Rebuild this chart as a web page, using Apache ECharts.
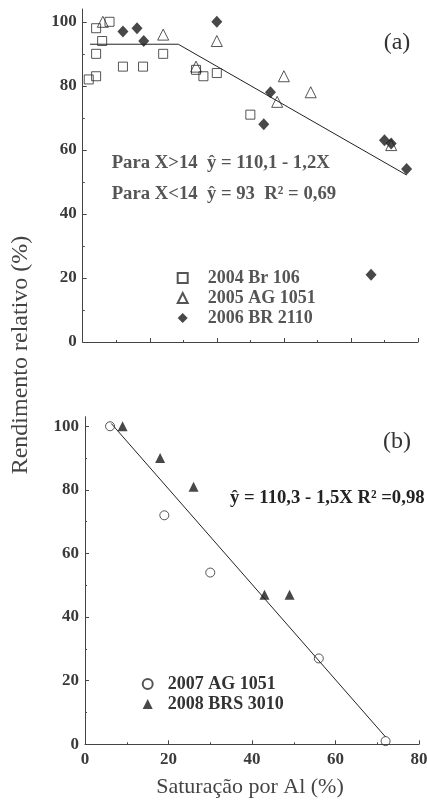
<!DOCTYPE html>
<html>
<head>
<meta charset="utf-8">
<script src="https://cdn.jsdelivr.net/npm/echarts@6/dist/echarts.min.js"></script>
<style>
  html, body { margin: 0; padding: 0; background: #fff; }
  #chart { width: 427px; height: 803px; }
</style>
</head>
<body>
<div id="chart"></div>
<script>
const serif = "'Liberation Serif','Times New Roman',serif";

// Panel (a): relative yield vs. Al saturation, 2004–2006 trials
const br106_2004 = [[0.9, 82], [2, 98], [2, 90], [2, 83], [2.9, 94], [4, 100], [6, 86], [9, 86], [12, 90], [16.9, 85], [18, 83], [20, 84], [25, 71]];
const ag1051_2005 = [[3, 100], [12, 96], [16.9, 86], [20, 94], [29, 75], [30, 83], [34, 78], [46, 61.5]];
const br2110_2006 = [[6, 97], [8.1, 98], [9.1, 94], [20, 100], [27, 68], [28, 78], [43, 21], [45, 63], [46, 62], [48.3, 54]];
// plateau y = 93 up to X = 14.25, then y = 110.1 - 1.2X
const fitA = [[1.1, 93], [14.25, 93], [48.3, 52.14]];

// Panel (b): 2007–2008 trials
const ag1051_2007 = [[6, 100], [19, 72], [30, 54], [56, 27], [72, 1]];
const brs3010_2008 = [[9, 100], [18, 90], [26, 81], [43, 47], [49, 47]];
// y = 110.3 - 1.5X
const fitB = [[6.3, 100.85], [72, 2.3]];

const namesA = ['2004 Br 106', '2005 AG 1051', '2006 BR 2110'];
const namesB = ['2007 AG 1051', '2008 BRS 3010'];

const yMajor = [0, 20, 40, 60, 80, 100];
const yMinor = [10, 30, 50, 70, 90];

const axisColor = '#444';
const labelColor = '#3a3a3a';

function xAxisFor(grid, max, showLabels) {
  return {
    type: 'value', gridIndex: grid, min: 0, max: max, interval: showLabels ? 20 : 10,
    axisLine: { show: true, onZero: false, lineStyle: { color: axisColor, width: 1 } },
    axisTick: { show: true, inside: true, length: 4, lineStyle: { color: axisColor } },
    minorTick: { show: true, splitNumber: 2, length: 2, lineStyle: { color: axisColor } },
    axisLabel: { show: showLabels, margin: 7, fontFamily: serif, fontSize: 17, fontWeight: 'bold', color: labelColor },
    splitLine: { show: false }, minorSplitLine: { show: false }
  };
}
function yMajorAxis(grid, max) {
  return {
    type: 'value', gridIndex: grid, min: 0, max: max, position: 'left', offset: 0,
    axisLine: { show: true, onZero: false, lineStyle: { color: axisColor, width: 1 } },
    axisTick: { show: true, inside: true, length: 4, customValues: yMajor, lineStyle: { color: axisColor } },
    axisLabel: { show: true, customValues: yMajor, margin: 6, fontFamily: serif, fontSize: 17, fontWeight: 'bold', color: labelColor },
    splitLine: { show: false }
  };
}
function yMinorAxis(grid, max) {
  return {
    type: 'value', gridIndex: grid, min: 0, max: max, position: 'left', offset: 0,
    axisLine: { show: false },
    axisTick: { show: true, inside: true, length: 2, customValues: yMinor, lineStyle: { color: axisColor } },
    axisLabel: { show: false },
    splitLine: { show: false }
  };
}

const openStyle = { color: 'rgba(255,255,255,0)', borderColor: '#2a2a2a', borderWidth: 1 };
const solidStyle = { color: '#1a1a1a', borderColor: '#1a1a1a', borderWidth: 0 };

function scatter(name, data, symbol, size, style, xi, yi) {
  return { type: 'scatter', name, data, symbol, symbolSize: size, itemStyle: style,
           xAxisIndex: xi, yAxisIndex: yi, emphasis: { disabled: true }, z: 3 };
}
function fitLine(name, data, xi, yi) {
  return { type: 'line', name, data, xAxisIndex: xi, yAxisIndex: yi, showSymbol: false, symbol: 'none',
           lineStyle: { color: '#222', width: 1 }, z: 2, emphasis: { disabled: true } };
}

const legendText = (color) => ({ fontFamily: serif, fontSize: 18, fontWeight: 'bold', color });

function txt(text, x, y, size, weight, color, align, extra) {
  return Object.assign({
    type: 'text', x: x, y: y,
    style: { text, x: 0, y: 0, align: align || 'left', verticalAlign: 'middle',
             fontFamily: serif, fontSize: size, fontWeight: weight, fill: color }
  }, extra || {});
}

const chart = echarts.init(document.getElementById('chart'), null, { renderer: 'canvas' });
chart.setOption({
  animation: false,
  backgroundColor: '#fff',
  grid: [
    { left: 82.7, top: 9, width: 335.3, height: 333, containLabel: false, outerBoundsMode: 'none' },
    { left: 85, top: 416.7, width: 334, height: 327.6, containLabel: false, outerBoundsMode: 'none' }
  ],
  xAxis: [xAxisFor(0, 50, false), xAxisFor(1, 80, true)],
  yAxis: [yMajorAxis(0, 104), yMinorAxis(0, 104), yMajorAxis(1, 103), yMinorAxis(1, 103)],
  legend: [
    { data: namesA, orient: 'vertical', left: 176.7, top: 269, itemWidth: 10, itemHeight: 10, itemGap: 2,
      padding: 0, selectedMode: false, textStyle: Object.assign(legendText('#555'), { padding: [0, 0, 0, 15] }) },
    { data: namesB, orient: 'vertical', left: 141.7, top: 675, itemWidth: 10, itemHeight: 10, itemGap: 2,
      padding: 0, selectedMode: false, textStyle: Object.assign(legendText('#333'), { padding: [0, 0, 0, 10] }) }
  ],
  series: [
    scatter(namesA[0], br106_2004, 'rect', 9, openStyle, 0, 0),
    scatter(namesA[1], ag1051_2005, 'triangle', 11, openStyle, 0, 0),
    scatter(namesA[2], br2110_2006, 'diamond', [11, 12], solidStyle, 0, 0),
    fitLine('fitA', fitA, 0, 0),
    scatter(namesB[0], ag1051_2007, 'circle', 9, openStyle, 1, 2),
    scatter(namesB[1], brs3010_2008, 'triangle', 10, solidStyle, 1, 2),
    fitLine('fitB', fitB, 1, 2)
  ],
  graphic: [
    txt('(a)', 397, 43, 24, 'normal', '#333', 'center'),
    txt('(b)', 397, 442, 24, 'normal', '#333', 'center'),
    txt('Para X>14  ŷ = 110,1 - 1,2X', 111.7, 163, 18.7, 'bold', '#555'),
    txt('Para X<14  ŷ = 93  R² = 0,69', 111.7, 194, 18.7, 'bold', '#555'),
    txt('ŷ = 110,3 - 1,5X R² =0,98', 230, 498, 18.7, 'bold', '#222'),
    txt('Saturação por Al (%)', 250, 787, 22, 'normal', '#444', 'center'),
    txt('Rendimento relativo (%)', 21, 355, 24, 'normal', '#444', 'center', { rotation: Math.PI / 2 })
  ]
});
</script>
</body>
</html>
